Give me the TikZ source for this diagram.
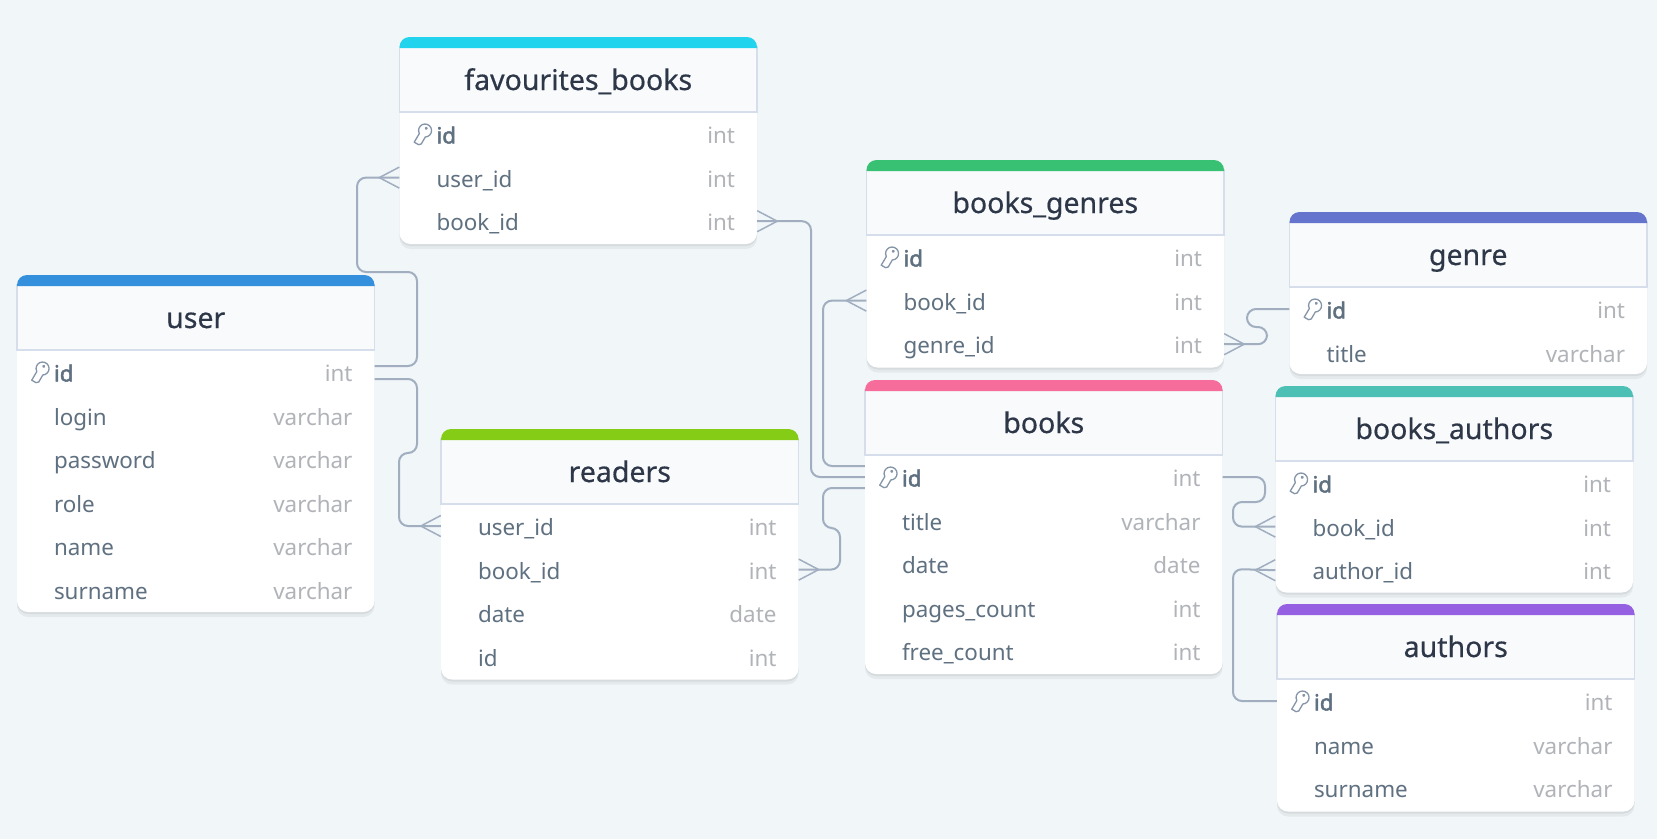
\documentclass[tikz,border=0pt]{standalone}
\usepackage{fontspec}
\setmainfont{Noto Sans}
\newfontfamily\titlefont{Noto Sans}[FakeBold=0.5]
\newfontfamily\idfont{Noto Sans}[FakeBold=2]
\usepackage{xcolor}
\usepackage{tikz}
\usetikzlibrary{calc,shadows}
\catcode`\_=12

\definecolor{bgclr}{HTML}{F1F6F9}
\definecolor{headclr}{HTML}{F8FAFC}
\definecolor{edgeclr}{HTML}{D5DEEA}
\definecolor{connclr}{HTML}{A0AEC0}
\definecolor{titleclr}{HTML}{2D3748}
\definecolor{fieldclr}{HTML}{5F7080}
\definecolor{typeclr}{HTML}{B0B3B8}
\definecolor{keyclr}{HTML}{8595A8}
\definecolor{userclr}{HTML}{3490DC}
\definecolor{favclr}{HTML}{22D3EE}
\definecolor{bgenreclr}{HTML}{38C172}
\definecolor{genreclr}{HTML}{6574CD}
\definecolor{bookclr}{HTML}{F66D9B}
\definecolor{bauthorclr}{HTML}{4DC0B5}
\definecolor{authorclr}{HTML}{9561E2}
\definecolor{readerclr}{HTML}{84CC16}

\tikzset{
	card/.style={fill=white,rounded corners=11pt,
		drop shadow={shadow xshift=0pt,shadow yshift=-2pt,opacity=.06,fill=black},
		drop shadow={shadow xshift=0pt,shadow yshift=-5pt,opacity=.05,fill=black}},
	headbox/.style={draw=edgeclr,line width=1.2pt,fill=headclr},
	titlebox/.style={text=titleclr,font=\titlefont\fontsize{28.5}{30}\selectfont,inner sep=0pt,
		text height=26pt,text depth=4pt},
	rowbox/.style={text=fieldclr,font=\fontsize{22.4}{24}\selectfont,inner xsep=0pt,inner ysep=0pt,
		text width=357.5pt,align=left,text height=22pt,text depth=3pt},
	conn/.style={draw=connclr,line width=2pt,rounded corners=9pt},
	footline/.style={draw=connclr,line width=1.5pt},
	keyicon/.pic={
		\draw[draw=keyclr,line width=1.3pt,x=1pt,y=1pt,rotate=240,line join=round]
			(5.5,3.5) arc[start angle=32,end angle=328,radius=6.5] -- (15.5,-3.5) -- (15.5,1.5) -- (13.5,3.5) -- cycle
			(-2.5,0) circle[radius=.9];
	}
}

% title, x, top, bottom, colour, key on first row, rows
\newcommand{\ertable}[7]{
	\path[card] (#2,#3) rectangle (#2+357.5,#4);
	\draw[headbox] (#2,#3+10) rectangle (#2+357.5,#3+75);
	\fill[#5] (#2,#3+11) [rounded corners=10pt] -- (#2,#3) -- (#2+357.5,#3) [sharp corners] -- (#2+357.5,#3+11) -- cycle;
	\node[titlebox] (#1) at (#2+178.75,#3+42) {#1};
	\foreach \fname/\ftype [count=\i from 0] in {#7} {
		\ifnum\i=0 \ifnum#6=1
			\node[rowbox] (#1-\fname) at (#2+178.75,#3+97) {\hspace*{37pt}{\idfont\fname}\hfill\textcolor{typeclr}{\ftype}\hspace*{22pt}};
			\pic at (#2+25.5,#3+93.5) {keyicon};
		\else
			\node[rowbox] (#1-\fname) at (#2+178.75,#3+97) {\hspace*{37pt}\fname\hfill\textcolor{typeclr}{\ftype}\hspace*{22pt}};
		\fi \else
			\node[rowbox] (#1-\fname) at (#2+178.75,#3+97+\i*43.6) {\hspace*{37pt}\fname\hfill\textcolor{typeclr}{\ftype}\hspace*{22pt}};
		\fi
	}
}
% edge point, length of the foot with its sign
\newcommand{\crowfoot}[2]{
	\draw[footline] (#1) ++(0,-10.5) -- ++(#2,10.5) -- ++(-#2,10.5);
}

\begin{document}
\begin{tikzpicture}[x=1pt,y=-1pt]
	\useasboundingbox (0,0) rectangle (1657,839);
	\fill[bgclr] (0,0) rectangle (1657,839);

	\ertable{user}{17}{275}{612}{userclr}{1}{id/int,login/varchar,password/varchar,role/varchar,name/varchar,surname/varchar}
	\ertable{favourites_books}{399.5}{37}{244}{favclr}{1}{id/int,user_id/int,book_id/int}
	\ertable{readers}{441}{429}{679.5}{readerclr}{0}{user_id/int,book_id/int,date/date,id/int}
	\ertable{books_genres}{866.5}{160}{367.5}{bgenreclr}{1}{id/int,book_id/int,genre_id/int}
	\ertable{books}{865}{380}{674}{bookclr}{1}{id/int,title/varchar,date/date,pages_count/int,free_count/int}
	\ertable{genre}{1289.5}{212}{374}{genreclr}{1}{id/int,title/varchar}
	\ertable{books_authors}{1275.5}{386}{592.5}{bauthorclr}{1}{id/int,book_id/int,author_id/int}
	\ertable{authors}{1277}{604}{811.5}{authorclr}{1}{id/int,name/varchar,surname/varchar}

	\draw[conn] ([yshift=6pt]user-id.east) -| (417,272) -- (357,272) |- (favourites_books-user_id.west);
	\crowfoot{favourites_books-user_id.west}{-20}
	\draw[conn] ([yshift=-7pt]user-id.east) -| (417,453) -- (399,453) |- (readers-user_id.west);
	\crowfoot{readers-user_id.west}{-20}
	\draw[conn] (favourites_books-book_id.east) -| (811,477) -- (books-id.west);
	\crowfoot{favourites_books-book_id.east}{20}
	\draw[conn] (books_genres-book_id.west) -| (823,466) -- ([yshift=11pt]books-id.west);
	\crowfoot{books_genres-book_id.west}{-20}
	\draw[conn] ([yshift=-11pt]books-id.west) -| (823,528) -- (840,528) |- (readers-book_id.east);
	\crowfoot{readers-book_id.east}{20}
	\draw[conn] (genre-id.west) -| (1247,327) -- (1267,327) |- (books_genres-genre_id.east);
	\crowfoot{books_genres-genre_id.east}{20}
	\draw[conn] (books-id.east) -| (1265,502) -- (1233,502) |- (books_authors-book_id.west);
	\crowfoot{books_authors-book_id.west}{-20}
	\draw[conn] (authors-id.west) -| (1233,569) -- (books_authors-author_id.west);
	\crowfoot{books_authors-author_id.west}{-20}
\end{tikzpicture}
\end{document}
